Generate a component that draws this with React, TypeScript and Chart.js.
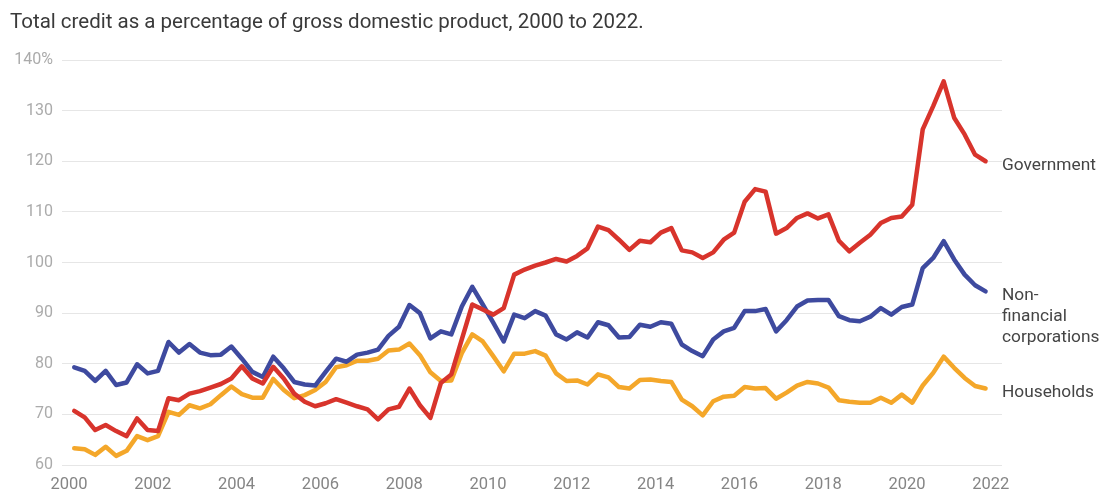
import React, { useEffect, useRef } from 'react';
import { Chart, registerables } from 'chart.js';

Chart.register(...registerables);

const TITLE = 'Total credit as a percentage of gross domestic product, 2000 to 2022.';

// Quarterly observations, 2000 Q1 – 2021 Q4 (plotted at mid-quarter)
const FIRST_QUARTER = 2000.125;
const QUARTER_STEP = 0.25;

const X_TICKS = [2000, 2002, 2004, 2006, 2008, 2010, 2012, 2014, 2016, 2018, 2020, 2022];
const Y_TICKS = [60, 70, 80, 90, 100, 110, 120, 130, 140];

const governmentLabel = ['Government'];
const corporationsLabel = ['Non-', 'financial', 'corporations'];
const householdsLabel = ['Households'];

const government = [
  70.7, 69.4, 66.9, 67.9, 66.7, 65.7, 69.2, 66.9, 66.7, 73.2, 72.8, 74.1, 74.6, 75.3, 76.0, 77.1,
  79.5, 77.1, 76.1, 79.4, 77.1, 74.1, 72.5, 71.6, 72.2, 73.0, 72.3, 71.6, 71.0, 69.0, 71.0, 71.5,
  75.1, 71.8, 69.3, 76.2, 77.9, 84.8, 91.7, 90.7, 89.7, 91.0, 97.6, 98.6, 99.4, 100.0, 100.7, 100.2,
  101.3, 102.8, 107.1, 106.4, 104.5, 102.5, 104.3, 104.0, 105.9, 106.8, 102.4, 102.0, 100.9, 102.0,
  104.5, 105.9, 112.0, 114.5, 114.0, 105.7, 106.8, 108.8, 109.7, 108.7, 109.5, 104.3, 102.2, 103.9,
  105.5, 107.8, 108.8, 109.1, 111.4, 126.3, 130.9, 135.8, 128.6, 125.3, 121.3, 120.0,
];

const corporations = [
  79.3, 78.6, 76.6, 78.6, 75.8, 76.3, 79.9, 78.1, 78.6, 84.3, 82.2, 83.9, 82.2, 81.7, 81.8, 83.4,
  81.0, 78.4, 77.4, 81.4, 79.1, 76.4, 75.9, 75.7, 78.4, 81.0, 80.4, 81.8, 82.2, 82.8, 85.5, 87.3,
  91.6, 90.0, 85.0, 86.4, 85.8, 91.3, 95.2, 91.7, 88.1, 84.4, 89.7, 89.0, 90.4, 89.5, 85.8, 84.8,
  86.2, 85.2, 88.2, 87.6, 85.2, 85.3, 87.7, 87.3, 88.2, 87.9, 83.8, 82.5, 81.5, 84.8,
  86.4, 87.1, 90.4, 90.4, 90.8, 86.4, 88.6, 91.3, 92.5, 92.6, 92.6, 89.4, 88.6, 88.4,
  89.3, 91.0, 89.7, 91.2, 91.7, 98.9, 100.9, 104.2, 100.6, 97.6, 95.5, 94.3,
];

const households = [
  63.3, 63.1, 62.0, 63.6, 61.8, 62.8, 65.7, 64.9, 65.7, 70.5, 69.9, 71.8, 71.2, 72.0, 73.8, 75.5,
  74.0, 73.3, 73.3, 77.0, 74.8, 73.2, 73.8, 74.8, 76.4, 79.3, 79.7, 80.6, 80.6, 81.0, 82.6, 82.8,
  84.0, 81.7, 78.3, 76.6, 76.7, 82.1, 85.8, 84.4, 81.5, 78.5, 82.0, 82.0, 82.5, 81.6, 78.1, 76.6,
  76.7, 75.9, 77.9, 77.3, 75.4, 75.1, 76.8, 76.9, 76.6, 76.4, 72.9, 71.6, 69.8, 72.6,
  73.5, 73.7, 75.4, 75.1, 75.2, 73.1, 74.3, 75.7, 76.4, 76.1, 75.3, 72.8, 72.5, 72.3,
  72.3, 73.3, 72.3, 73.9, 72.3, 75.7, 78.2, 81.4, 79.2, 77.2, 75.6, 75.1,
];

const COLORS = {
  government: '#d8342c',
  corporations: '#3e4a9f',
  households: '#f4a72a',
};

const FONT = 'Roboto, "Noto Sans", sans-serif';

function toPoints(values: number[]) {
  return values.map((v, i) => ({ x: FIRST_QUARTER + i * QUARTER_STEP, y: v }));
}

const overlayPlugin = {
  id: 'overlay',
  afterDraw(chart: any) {
    const { ctx, chartArea } = chart;
    ctx.save();
    // title
    ctx.font = `20.5px ${FONT}`;
    ctx.fillStyle = '#3a3a3a';
    ctx.textBaseline = 'middle';
    ctx.textAlign = 'left';
    ctx.fillText(TITLE, 10, 23);

    // end labels
    ctx.font = `17.3px ${FONT}`;
    ctx.fillStyle = '#454545';
    chart.data.datasets.forEach((ds: any, di: number) => {
      const meta = chart.getDatasetMeta(di);
      const last = meta.data[meta.data.length - 1];
      if (!last) return;
      const lines: string[] = ds.endLabel;
      lines.forEach((line, li) => {
        ctx.fillText(line, chartArea.right, last.y + 4.5 + li * 21);
      });
    });
    ctx.restore();
  },
};

export default function App() {
  const canvasRef = useRef<HTMLCanvasElement | null>(null);

  useEffect(() => {
    if (!canvasRef.current) return;
    const lineStyle = {
      borderWidth: 4.5,
      pointRadius: 0,
      tension: 0,
      borderJoinStyle: 'round' as const,
      borderCapStyle: 'round' as const,
      fill: false,
    };
    const chart = new Chart(canvasRef.current, {
      type: 'line',
      data: {
        datasets: [
          {
            label: 'Government',
            data: toPoints(government),
            borderColor: COLORS.government,
            endLabel: governmentLabel,
            ...lineStyle,
          } as any,
          {
            label: 'Non-financial corporations',
            data: toPoints(corporations),
            borderColor: COLORS.corporations,
            endLabel: corporationsLabel,
            ...lineStyle,
          } as any,
          {
            label: 'Households',
            data: toPoints(households),
            borderColor: COLORS.households,
            endLabel: householdsLabel,
            ...lineStyle,
          } as any,
        ],
      },
      options: {
        responsive: false,
        animation: false,
        layout: { padding: { top: 60, right: 98, left: 0, bottom: 0 } },
        plugins: {
          legend: { display: false },
          tooltip: { enabled: false },
          title: { display: false },
        },
        scales: {
          x: {
            type: 'linear',
            min: 1999.833,
            max: 2022.267,
            grid: { display: false },
            border: { display: false },
            afterBuildTicks: (scale: any) => {
              scale.ticks = X_TICKS.map((v) => ({ value: v }));
            },
            afterFit: (scale: any) => {
              scale.height = 27;
            },
            ticks: {
              autoSkip: false,
              maxRotation: 0,
              padding: 2,
              color: '#858585',
              font: { family: FONT, size: 16.5 },
              callback: (v: any) => String(v),
            },
          },
          y: {
            min: 60,
            max: 140,
            afterBuildTicks: (scale: any) => {
              scale.ticks = Y_TICKS.map((v) => ({ value: v }));
            },
            afterFit: (scale: any) => {
              scale.width = 62;
            },
            grid: { color: '#e6e6e6', lineWidth: 1, drawTicks: false },
            border: { display: false },
            ticks: {
              padding: 9,
              color: '#ababab',
              font: { family: FONT, size: 16 },
              callback: (v: any) => (v === 140 ? '140%' : String(v)),
            },
          },
        },
      } as any,
      plugins: [overlayPlugin],
    });
    return () => chart.destroy();
  }, []);

  return (
    <div style={{ position: 'fixed', left: 0, top: 0, width: 1100, height: 492, background: '#fff' }}>
      <canvas ref={canvasRef} width={1100} height={492} style={{ width: 1100, height: 492 }} />
    </div>
  );
}
